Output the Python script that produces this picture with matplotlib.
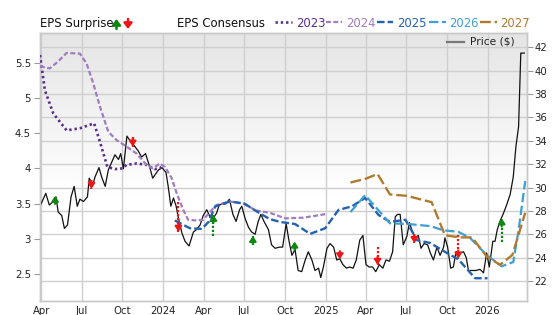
import matplotlib
matplotlib.use('Agg')
import matplotlib.pyplot as plt
import numpy as np
import pandas as pd

# ---------------- data ----------------
price_dates = ['2023-03-29','2023-04-11','2023-04-19','2023-04-28','2023-05-04','2023-05-09','2023-05-17','2023-05-23','2023-05-30',
 '2023-06-07','2023-06-14','2023-06-21','2023-06-27','2023-07-05','2023-07-14','2023-07-18','2023-07-26','2023-07-31','2023-08-09',
 '2023-08-15','2023-08-23','2023-08-30','2023-09-07','2023-09-14','2023-09-22','2023-09-27','2023-10-03','2023-10-11','2023-10-20',
 '2023-10-29','2023-11-06','2023-11-13','2023-11-22','2023-12-01','2023-12-08','2023-12-21','2023-12-29','2024-01-07','2024-01-12',
 '2024-01-18','2024-01-24','2024-01-30','2024-02-04','2024-02-12','2024-02-19','2024-02-28','2024-03-09','2024-03-16','2024-03-24',
 '2024-03-31','2024-04-08','2024-04-15','2024-04-23','2024-04-30','2024-05-06','2024-05-12','2024-05-21','2024-05-29','2024-06-06',
 '2024-06-13','2024-06-21','2024-06-26','2024-07-03','2024-07-11','2024-07-18','2024-07-26','2024-08-02','2024-08-08','2024-08-15',
 '2024-08-25','2024-09-01','2024-09-09','2024-09-19','2024-09-26','2024-10-04','2024-10-11','2024-10-17','2024-10-24','2024-10-31',
 '2024-11-08','2024-11-16','2024-11-23','2024-12-01','2024-12-08','2024-12-16','2024-12-21','2024-12-27','2025-01-04','2025-01-11',
 '2025-01-19','2025-01-26','2025-02-02','2025-02-09','2025-02-17','2025-02-24','2025-03-04','2025-03-11','2025-03-19','2025-03-26',
 '2025-04-02','2025-04-09','2025-04-17','2025-04-24','2025-05-02','2025-05-10','2025-05-17','2025-05-25','2025-06-01','2025-06-07',
 '2025-06-12','2025-06-18','2025-06-25','2025-07-03','2025-07-09','2025-07-14','2025-07-22','2025-07-29','2025-08-04','2025-08-11',
 '2025-08-19','2025-08-25','2025-09-01','2025-09-09','2025-09-16','2025-09-24','2025-09-27','2025-10-03','2025-10-10','2025-10-16',
 '2025-10-22','2025-10-30','2025-11-08','2025-11-14','2025-11-19','2025-11-27','2025-12-06','2025-12-15','2025-12-23','2025-12-30',
 '2026-01-05','2026-01-13','2026-01-18','2026-01-23','2026-01-29','2026-02-06','2026-02-13','2026-02-21','2026-02-28','2026-03-06',
 '2026-03-12','2026-03-17','2026-03-25']
price_values = [28.4,29.5,28.5,28.8,29.2,27.9,27.6,26.5,26.8,
 29.2,30.1,28.4,29.0,28.8,29.2,30.8,30.2,30.9,31.7,
 30.9,30.1,31.5,32.2,32.8,32.4,32.9,31.6,34.4,33.9,
 33.5,33.1,32.6,32.9,31.8,30.8,31.5,31.7,31.3,30.1,
 28.4,29.1,28.4,27.4,26.1,25.4,25.0,26.2,26.4,26.8,
 27.6,28.1,27.5,27.4,27.8,28.5,28.6,28.6,29.0,27.7,
 27.1,28.1,28.4,27.4,26.6,26.2,26.0,27.1,27.7,27.1,
 26.4,25.1,24.8,24.9,24.9,26.9,25.3,24.2,24.7,22.9,
 22.8,23.8,24.5,23.8,22.9,23.1,22.3,23.2,24.8,25.2,
 24.9,23.8,23.9,23.4,23.1,23.2,23.1,23.8,25.5,25.9,
 23.4,23.2,23.2,22.8,23.4,23.1,23.8,23.7,24.5,27.5,
 27.7,27.7,25.1,25.8,27.0,26.4,25.7,25.9,24.8,25.2,
 25.1,24.4,23.8,24.9,24.2,24.9,25.7,24.9,23.1,23.2,
 24.5,24.4,24.5,24.0,22.9,22.9,22.9,23.0,22.7,24.4,
 23.2,25.4,25.4,26.4,27.1,27.8,28.5,29.4,30.9,33.5,
 35.2,41.5,41.5]

eps2023_dates = ['2023-03-29','2023-04-09','2023-04-28','2023-05-28','2023-06-27','2023-07-29','2023-08-11','2023-08-28',
 '2023-09-14','2023-10-01','2023-10-10','2023-11-02','2023-11-24','2023-12-13','2023-12-24','2024-01-01']
eps2023_values = [5.61,5.11,4.78,4.54,4.57,4.64,4.38,4.02,3.99,4.00,4.05,4.07,4.05,3.99,4.00,4.05]

eps2024_dates = ['2023-03-29','2023-04-20','2023-05-09','2023-05-28','2023-06-27','2023-07-12','2023-07-27','2023-08-11',
 '2023-08-30','2023-09-18','2023-10-10','2023-11-02','2023-11-24','2023-12-09','2023-12-24','2024-01-05','2024-01-20',
 '2024-01-31','2024-02-15','2024-02-26','2024-03-16','2024-03-31','2024-04-15','2024-04-30','2024-05-30','2024-06-29',
 '2024-07-29','2024-08-28','2024-10-02','2024-11-12','2024-12-31']
eps2024_values = [5.45,5.42,5.52,5.64,5.63,5.49,5.21,4.88,4.52,4.40,4.31,4.21,4.05,4.00,4.07,4.02,3.86,
 3.65,3.41,3.27,3.26,3.27,3.38,3.48,3.53,3.50,3.40,3.37,3.29,3.30,3.35]

eps2025_dates = ['2024-01-27','2024-03-01','2024-03-28','2024-04-12','2024-04-27','2024-05-30','2024-07-02','2024-08-06',
 '2024-08-28','2024-09-20','2024-10-24','2024-11-27','2024-12-31','2025-01-30','2025-03-01','2025-03-31','2025-04-30',
 '2025-05-26','2025-06-30','2025-07-26','2025-08-25','2025-10-01','2025-10-27','2025-12-04','2026-01-01']
eps2025_values = [3.26,3.15,3.14,3.24,3.46,3.53,3.50,3.36,3.28,3.24,3.21,3.07,3.15,3.41,3.46,3.58,3.34,
 3.24,3.27,2.98,2.94,2.80,2.71,2.44,2.44]

eps2026_dates = ['2025-02-26','2025-03-31','2025-05-26','2025-07-07','2025-08-25','2025-09-24','2025-10-27','2025-11-23',
 '2025-12-30','2026-02-02','2026-02-28','2026-03-12','2026-03-27']
eps2026_values = [3.38,3.62,3.22,3.21,3.18,3.12,3.10,3.01,2.77,2.61,2.67,3.12,3.82]

eps2027_dates = ['2025-02-26','2025-03-31','2025-04-28','2025-05-26','2025-07-03','2025-08-28','2025-09-27','2025-10-31',
 '2025-11-27','2025-12-30','2026-01-29','2026-02-26','2026-03-27']
eps2027_values = [3.80,3.85,3.92,3.63,3.61,3.52,3.05,3.02,3.02,2.75,2.63,2.77,3.37]

surprise_dates = ['2023-05-02','2023-07-23','2023-10-24','2024-02-04','2024-04-23','2024-07-21','2024-10-23',
 '2025-02-02','2025-04-28','2025-07-20','2025-10-27','2026-02-02']
surprise_consensus = [3.50,3.83,4.44,3.52,3.04,2.91,2.84,2.83,2.88,3.07,3.05,2.96]
surprise_actual =    [3.61,3.71,4.31,3.10,3.34,3.04,2.96,2.71,2.63,2.94,2.72,3.29]

xtick_dates = ['2023-04-01','2023-07-01','2023-10-01','2024-01-01','2024-04-01','2024-07-01','2024-10-01',
 '2025-01-01','2025-04-01','2025-07-01','2025-10-01','2026-01-01']
xtick_labels = ['Apr','Jul','Oct','2024','Apr','Jul','Oct','2025','Apr','Jul','Oct','2026']
eps_ticks = [2.5,3,3.5,4,4.5,5,5.5]
eps_tick_labels = ['2.5','3','3.5','4','4.5','5','5.5']
price_ticks = [22,24,26,28,30,32,34,36,38,40,42]
price_tick_labels = ['22','24','26','28','30','32','34','36','38','40','42']

series_labels = ['2023','2024','2025','2026','2027']

# ---------------- style ----------------
W, H = 556, 315
colors = ['#5a2d8c','#a07cc0','#2462b0','#3d9fd3','#b07b2e']
styles = [(0,(0.9,1.1)), (0,(2.2,1.1)), (0,(3.2,1.3)), (0,(4.2,1.6)), (0,(4.6,1.6))]
lws = [1.9,1.6,1.7,1.6,1.7]
green = '#0d870d'
red = '#ee1515'
grid_c = '#cfcfcf'
ARROW = '-|>,head_length=0.3,head_width=0.2'
ARROW_LEG = '-|>,head_length=0.33,head_width=0.25'

plt.rcParams['font.family'] = ['DejaVu Sans']
fig = plt.figure(figsize=(W/100, H/100), dpi=100)
ax = fig.add_axes([40/W, 14/H, 487/W, 268/H])   # price axis (right ticks)
ax_eps = ax.twinx()                               # EPS axis (left ticks)

xmin, xmax = pd.Timestamp('2023-03-29'), pd.Timestamp('2026-03-31')

# background gradient
yy = np.linspace(1, 0, 256)[:, None]
vals = np.clip(0.898 + (1 - yy) * 0.17, 0, 1)
img = np.repeat(vals[:, :, None], 3, axis=2)
ax.imshow(img, extent=[0, 1, 0, 1], transform=ax.transAxes, aspect='auto', zorder=0, interpolation='bilinear')

# grid
for d in xtick_dates:
    ax.axvline(pd.Timestamp(d), color=grid_c, lw=1.0, zorder=1)
for p in price_ticks:
    ax.axhline(p, color=grid_c, lw=1.0, zorder=1)

# price
ax.plot(pd.to_datetime(price_dates), price_values, color='#111111', lw=0.9, zorder=3)

# eps consensus lines
eps_dates = [eps2023_dates, eps2024_dates, eps2025_dates, eps2026_dates, eps2027_dates]
eps_vals = [eps2023_values, eps2024_values, eps2025_values, eps2026_values, eps2027_values]
for dts, vs, c, ls, lw in zip(eps_dates, eps_vals, colors, styles, lws):
    ax_eps.plot(pd.to_datetime(dts), vs, color=c, linestyle=ls, lw=lw, zorder=4)

# surprises
for d, cons, act in zip(surprise_dates, surprise_consensus, surprise_actual):
    up = act > cons
    c = green if up else red
    dt = pd.Timestamp(d)
    ax_eps.plot([dt, dt], [cons, act], color=c, linestyle=(0, (1, 0.8)), lw=1.6, zorder=5)
    ax_eps.annotate('', xy=(dt, act), xytext=(0, -5.8 if up else 5.8), textcoords='offset points',
                    arrowprops=dict(arrowstyle=ARROW, color=c, lw=1.5,
                                    mutation_scale=10, shrinkA=0, shrinkB=0), zorder=6)

# axes limits / ticks
ax.set_xlim(xmin, xmax)
ax.set_ylim(20.29, 43.22)
ax_eps.set_ylim(2.1165, 5.923)
ax.set_xticks(pd.to_datetime(xtick_dates))
ax.set_xticklabels(xtick_labels)
ax.yaxis.tick_right()
ax.set_yticks(price_ticks)
ax.set_yticklabels(price_tick_labels)
ax_eps.yaxis.tick_left()
ax_eps.set_yticks(eps_ticks)
ax_eps.set_yticklabels(eps_tick_labels)

ax.tick_params(axis='x', length=0, pad=3.5, labelsize=7.3, colors='#222222')
ax.tick_params(axis='y', length=4, width=0.8, pad=1.5, labelsize=7.3, colors='#999999', labelcolor='#222222')
ax_eps.tick_params(axis='y', length=4.5, width=0.8, pad=2, labelsize=7.3, colors='#999999', labelcolor='#222222')
for a in (ax, ax_eps):
    for s in a.spines.values():
        s.set_color('#c8c8c8')
        s.set_linewidth(1.0)

# price legend (inside, top right)
ax.plot([(446.7-40)/487, (464-40)/487], [(301-41.7)/268]*2, transform=ax.transAxes, color='#777777', lw=1.6, zorder=7)
ax.text((470-40)/487, (301-45)/268, 'Price ($)', transform=ax.transAxes, fontsize=7.7, color='#222222',
        va='baseline', ha='left', zorder=7)

# top legend row
def fx(px): return px / W
def fy(py): return 1 - py / H
base = 27.2
fig.text(fx(40), fy(base), 'EPS Surprise', fontsize=8.4, color='#111111', va='baseline', ha='left')
fig.text(fx(177), fy(base), 'EPS Consensus', fontsize=8.4, color='#111111', va='baseline', ha='left')
for xc, up, c in [(116.5, True, green), (128, False, red)]:
    tip, tail = (19.0, 29.0) if up else (29.0, 19.0)
    fig.add_artist(matplotlib.patches.FancyArrowPatch((fx(xc), fy(tail)), (fx(xc), fy(tip)), transform=fig.transFigure,
                   arrowstyle=ARROW_LEG, mutation_scale=10,
                   color=c, lw=1.8, shrinkA=0, shrinkB=0))
sample_x = [(275, 292), (326, 342), (377, 393), (428.5, 446), (479.5, 497)]
text_x = [296, 346.5, 397, 449.5, 500]
for (x0, x1), tx, lab, c, ls, lw in zip(sample_x, text_x, series_labels, colors, styles, lws):
    fig.add_artist(matplotlib.lines.Line2D([fx(x0), fx(x1)], [fy(21.5), fy(21.5)], transform=fig.transFigure,
                                           color=c, linestyle=ls, lw=lw))
    fig.text(fx(tx), fy(base), lab, fontsize=8.4, color=c, va='baseline', ha='left')

fig.savefig('out.png', dpi=100)
